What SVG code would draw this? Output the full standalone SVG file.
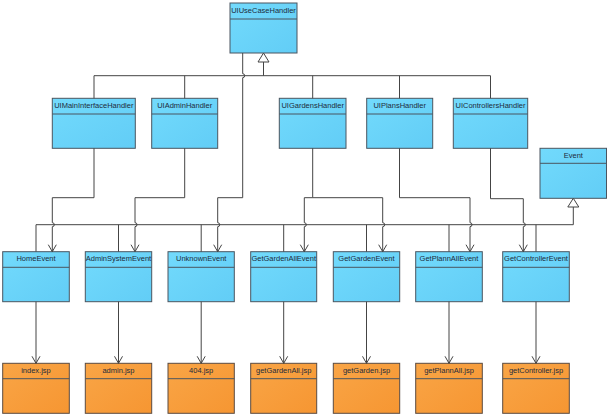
<svg xmlns="http://www.w3.org/2000/svg" width="607" height="416" viewBox="0 0 607 416">
<style>
.blue rect{fill:url(#gb);stroke:#4a5560;stroke-width:1}
.orange rect{fill:url(#go);stroke:#5a4a40;stroke-width:1}
.node line{stroke:#4a5560;stroke-width:1}
text{font-family:"Liberation Sans",Arial,sans-serif;font-size:7.5px;fill:#1e2c3c;text-anchor:middle}
.conn path{fill:none;stroke:#444;stroke-width:1}
.assoc{marker-end:url(#open)}
.tri{fill:#fff;stroke:#444;stroke-width:1}
</style>
<defs>
<linearGradient id="gb" x1="0" y1="0" x2="1" y2="1">
<stop offset="0" stop-color="#72dafc"/>
<stop offset="1" stop-color="#62cdf6"/>
</linearGradient>
<linearGradient id="go" x1="0" y1="0" x2="1" y2="1">
<stop offset="0" stop-color="#f9a546"/>
<stop offset="1" stop-color="#f69632"/>
</linearGradient>
<marker id="open" viewBox="-8 -5 9 10" refX="0" refY="0" markerWidth="9" markerHeight="10" markerUnits="userSpaceOnUse" orient="auto">
<path d="M-7,-4 L0,0 L-7,4" fill="none" stroke="#444" stroke-width="1"/>
</marker>
</defs>
<rect width="607" height="416" fill="#fff"/>

<g id="UIUseCaseHandler" class="node blue"><rect x="230" y="3" width="67" height="50"/><line x1="230" y1="19" x2="297" y2="19"/><text x="263.5" y="12.8">UIUseCaseHandler</text></g>

<g id="UIMainInterfaceHandler" class="node blue"><rect x="52.3" y="98.3" width="83" height="50"/><line x1="52.3" y1="114" x2="135.3" y2="114"/><text x="93.8" y="108.3">UIMainInterfaceHandler</text></g>
<g id="UIAdminHandler" class="node blue"><rect x="151.7" y="98.3" width="66" height="50"/><line x1="151.7" y1="114" x2="217.7" y2="114"/><text x="184.7" y="108.3">UIAdminHandler</text></g>
<g id="UIGardensHandler" class="node blue"><rect x="279.3" y="98.3" width="66.7" height="50"/><line x1="279.3" y1="114" x2="346" y2="114"/><text x="312.7" y="108.3">UIGardensHandler</text></g>
<g id="UIPlansHandler" class="node blue"><rect x="366.7" y="98.3" width="66" height="50"/><line x1="366.7" y1="114" x2="432.7" y2="114"/><text x="399.7" y="108.3">UIPlansHandler</text></g>
<g id="UIControllersHandler" class="node blue"><rect x="453.3" y="98.3" width="74.4" height="50"/><line x1="453.3" y1="114" x2="527.7" y2="114"/><text x="490.5" y="108.3">UIControllersHandler</text></g>
<g id="Event" class="node blue"><rect x="540" y="148.3" width="66.5" height="50"/><line x1="540" y1="163.3" x2="606.5" y2="163.3"/><text x="573.3" y="157.8">Event</text></g>

<g id="HomeEvent" class="node blue"><rect x="2.7" y="251.7" width="66.6" height="50"/><line x1="2.7" y1="267.3" x2="69.3" y2="267.3"/><text x="36" y="261.2">HomeEvent</text></g>
<g id="AdminSystemEvent" class="node blue"><rect x="85.3" y="251.7" width="66.4" height="50"/><line x1="85.3" y1="267.3" x2="151.7" y2="267.3"/><text x="118.5" y="261.2">AdminSystemEvent</text></g>
<g id="UnknownEvent" class="node blue"><rect x="168" y="251.7" width="66.3" height="50"/><line x1="168" y1="267.3" x2="234.3" y2="267.3"/><text x="201.2" y="261.2">UnknownEvent</text></g>
<g id="GetGardenAllEvent" class="node blue"><rect x="250.7" y="251.7" width="66" height="50"/><line x1="250.7" y1="267.3" x2="316.7" y2="267.3"/><text x="283.7" y="261.2">GetGardenAllEvent</text></g>
<g id="GetGardenEvent" class="node blue"><rect x="333.3" y="251.7" width="66.4" height="50"/><line x1="333.3" y1="267.3" x2="399.7" y2="267.3"/><text x="366.5" y="261.2">GetGardenEvent</text></g>
<g id="GetPlannAllEvent" class="node blue"><rect x="415.7" y="251.7" width="66.6" height="50"/><line x1="415.7" y1="267.3" x2="482.3" y2="267.3"/><text x="449" y="261.2">GetPlannAllEvent</text></g>
<g id="GetControllerEvent" class="node blue"><rect x="502.7" y="251.7" width="66.6" height="50"/><line x1="502.7" y1="267.3" x2="569.3" y2="267.3"/><text x="536" y="261.2">GetControllerEvent</text></g>

<g id="index.jsp" class="node orange"><rect x="2.7" y="363.3" width="66.6" height="50"/><line x1="2.7" y1="378.7" x2="69.3" y2="378.7"/><text x="36" y="372.8">index.jsp</text></g>
<g id="admin.jsp" class="node orange"><rect x="85.3" y="363.3" width="66.4" height="50"/><line x1="85.3" y1="378.7" x2="151.7" y2="378.7"/><text x="118.5" y="372.8">admin.jsp</text></g>
<g id="404.jsp" class="node orange"><rect x="168" y="363.3" width="66.3" height="50"/><line x1="168" y1="378.7" x2="234.3" y2="378.7"/><text x="201.2" y="372.8">404.jsp</text></g>
<g id="getGardenAll.jsp" class="node orange"><rect x="250.7" y="363.3" width="66" height="50"/><line x1="250.7" y1="378.7" x2="316.7" y2="378.7"/><text x="283.7" y="372.8">getGardenAll.jsp</text></g>
<g id="getGarden.jsp" class="node orange"><rect x="333.3" y="363.3" width="66.4" height="50"/><line x1="333.3" y1="378.7" x2="399.7" y2="378.7"/><text x="366.5" y="372.8">getGarden.jsp</text></g>
<g id="getPlannAll.jsp" class="node orange"><rect x="415.7" y="363.3" width="66.6" height="50"/><line x1="415.7" y1="378.7" x2="482.3" y2="378.7"/><text x="449" y="372.8">getPlannAll.jsp</text></g>
<g id="getController.jsp" class="node orange"><rect x="502.7" y="363.3" width="66.6" height="50"/><line x1="502.7" y1="378.7" x2="569.3" y2="378.7"/><text x="536" y="372.8">getController.jsp</text></g>

<g id="connectors" class="conn">
<!-- handler generalization -->
<path d="M263.5,62 V75.7 M94,75.7 H490.5 M94,75.7 V98.3 M184.7,75.7 V98.3 M312.7,75.7 V98.3 M399.5,75.7 V98.3 M490.5,75.7 V98.3"/>
<polygon class="tri" points="263.5,53 258,62 269,62"/>
<!-- event generalization -->
<path d="M573.3,206.7 V224.7 H36 M36,224.7 V251.7 M118.5,224.7 V251.7 M201.2,224.7 V251.7 M283.7,224.7 V251.7 M366.5,224.7 V251.7 M449,224.7 V251.7 M536,224.7 V251.7"/>
<polygon class="tri" points="573.3,198.3 567.8,207 578.8,207"/>
<!-- associations -->
<path class="assoc" d="M94,148.3 V197.7 H52.3 V222.7 a2,2 0 0 1 0,4 V251.7"/>
<path class="assoc" d="M184.7,148.3 V197.7 H135 V222.7 a2,2 0 0 1 0,4 V251.7"/>
<path class="assoc" d="M242.7,53 V73.7 a2,2 0 0 1 0,4 V197.7 H217.7 V222.7 a2,2 0 0 1 0,4 V251.7"/>
<path class="assoc" d="M312.7,148.3 V197.7 H304.3 V222.7 a2,2 0 0 1 0,4 V251.7"/>
<path class="assoc" d="M312.7,197.7 H382.7 V222.7 a2,2 0 0 1 0,4 V251.7"/>
<path class="assoc" d="M399.5,148.3 V197.7 H470 V222.7 a2,2 0 0 1 0,4 V251.7"/>
<path class="assoc" d="M490.5,148.3 V198.7 H523.3 V222.7 a2,2 0 0 1 0,4 V251.7"/>
<!-- dependencies -->
<path class="assoc" d="M36,301.7 V363.3"/>
<path class="assoc" d="M118.5,301.7 V363.3"/>
<path class="assoc" d="M201.2,301.7 V363.3"/>
<path class="assoc" d="M283.7,301.7 V363.3"/>
<path class="assoc" d="M366.5,301.7 V363.3"/>
<path class="assoc" d="M449,301.7 V363.3"/>
<path class="assoc" d="M536,301.7 V363.3"/>
</g>
</svg>
